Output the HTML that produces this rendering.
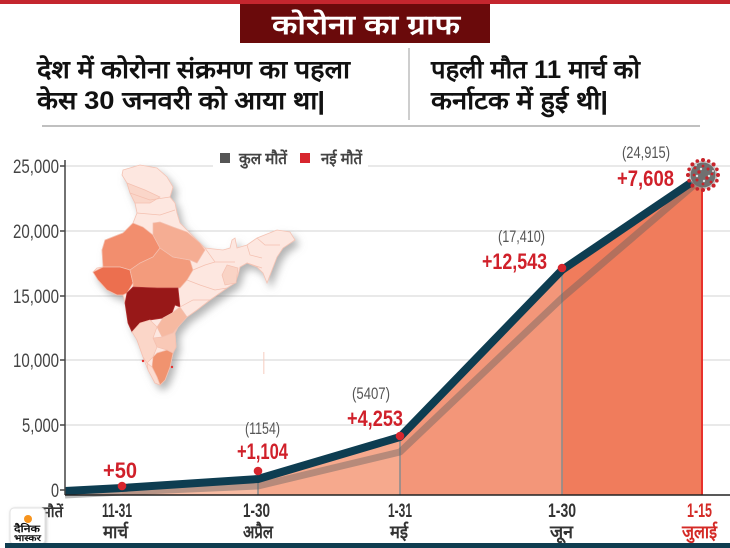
<!DOCTYPE html>
<html><head><meta charset="utf-8">
<style>
html,body{margin:0;padding:0;background:#fff;}
svg{display:block;}
.dv{font-family:"Liberation Sans","DejaVu Sans",sans-serif;}
.n{font-family:"Liberation Sans",sans-serif;}
</style></head>
<body>
<svg width="730" height="548" viewBox="0 0 730 548" xmlns="http://www.w3.org/2000/svg">
<defs>
<filter id="sh" x="-20%" y="-20%" width="150%" height="150%">
<feDropShadow dx="4" dy="5" stdDeviation="4" flood-color="#777" flood-opacity="0.55"/>
</filter>
<filter id="sh2" x="-30%" y="-30%" width="160%" height="160%">
<feDropShadow dx="1" dy="1" stdDeviation="1.5" flood-color="#999" flood-opacity="0.6"/>
</filter>
</defs>
<rect width="730" height="548" fill="#fff"/>
<!-- top bar -->
<rect x="0" y="0" width="730" height="4" fill="#c4262e"/>
<rect x="240" y="4" width="250" height="39" fill="#6a0a0b"/>
<text x="272" y="34" class="dv" font-size="27" font-weight="bold" fill="#fff" textLength="188" lengthAdjust="spacingAndGlyphs">कोरोना का ग्राफ</text>

<text x="37" y="78" class="dv" font-size="25" font-weight="bold" fill="#111" textLength="313" lengthAdjust="spacingAndGlyphs">देश में कोरोना संक्रमण का पहला</text>
<text x="37" y="109" class="dv" font-size="25" font-weight="bold" fill="#111" textLength="288" lengthAdjust="spacingAndGlyphs">केस 30 जनवरी को आया था|</text>
<line x1="409" y1="48" x2="409" y2="120" stroke="#bdbdbd" stroke-width="1.5"/>
<text x="431" y="78" class="dv" font-size="25" font-weight="bold" fill="#111" textLength="209" lengthAdjust="spacingAndGlyphs">पहली मौत 11 मार्च को</text>
<text x="431" y="109" class="dv" font-size="25" font-weight="bold" fill="#111" textLength="177" lengthAdjust="spacingAndGlyphs">कर्नाटक में हुई थी|</text>
<line x1="42" y1="126" x2="700" y2="126" stroke="#9a9a9a" stroke-width="1.2"/>

<!-- gridlines -->
<g stroke="#dcdcdc" stroke-width="1.2">
<line x1="65" y1="166" x2="730" y2="166"/>
<line x1="65" y1="231" x2="730" y2="231"/>
<line x1="65" y1="296" x2="730" y2="296"/>
<line x1="65" y1="360" x2="730" y2="360"/>
<line x1="65" y1="425" x2="730" y2="425"/>
</g>
<!-- y labels -->
<g class="n" font-size="19" fill="#444">
<text x="13" y="173" textLength="46" lengthAdjust="spacingAndGlyphs">25,000</text>
<text x="13" y="238" textLength="46" lengthAdjust="spacingAndGlyphs">20,000</text>
<text x="13" y="303" textLength="46" lengthAdjust="spacingAndGlyphs">15,000</text>
<text x="13" y="367" textLength="46" lengthAdjust="spacingAndGlyphs">10,000</text>
<text x="22" y="432" textLength="37" lengthAdjust="spacingAndGlyphs">5,000</text>
<text x="51" y="497" textLength="8" lengthAdjust="spacingAndGlyphs">0</text>
</g>
<g stroke="#444" stroke-width="1.5">
<line x1="60" y1="166" x2="65" y2="166"/>
<line x1="60" y1="231" x2="65" y2="231"/>
<line x1="60" y1="296" x2="65" y2="296"/>
<line x1="60" y1="360" x2="65" y2="360"/>
<line x1="60" y1="425" x2="65" y2="425"/>
<line x1="60" y1="490" x2="65" y2="490"/>
</g>

<!-- legend -->
<rect x="213" y="140" width="155" height="33" fill="#fff"/>
<rect x="220" y="153" width="10" height="10" fill="#555"/>
<text x="239" y="164" class="dv" font-size="16" font-weight="bold" fill="#444" textLength="48" lengthAdjust="spacingAndGlyphs">कुल मौतें</text>
<rect x="300" y="153" width="10" height="10" fill="#d7262e"/>
<text x="321" y="164" class="dv" font-size="16" font-weight="bold" fill="#444" textLength="41" lengthAdjust="spacingAndGlyphs">नई मौतें</text>

<!-- map -->
<g filter="url(#sh)">
<path d="M123,170 L140,165 L157,168 L167,177 L173,187 L170,197 L175,203 L177,213 L180,223 L190,233 L200,243 L205,248 L223,250 L230,248 L232,240 L235,238 L237,248 L247,245 L257,238 L277,230 L290,232 L295,240 L283,248 L277,257 L272,270 L267,283 L263,273 L257,267 L247,263 L240,267 L238,275 L235,283 L227,288 L210,300 L197,310 L187,317 L178,327 L175,333 L176,347 L173,353 L170,367 L165,380 L160,385 L155,383 L148,370 L143,357 L137,340 L133,333 L128,323 L125,303 L123,295 L117,295 L107,290 L98,280 L93,272 L97,268 L103,267 L102,250 L105,240 L123,233 L133,223 L137,213 L135,203 L130,193 L127,183 L122,175 Z" fill="#fde7e0" stroke="#f4c3b4" stroke-width="0.8"/>
</g>
<g stroke="#f4c0b0" stroke-width="0.7">
<path d="M127,183 L145,190 L160,197 L150,203 L135,203 L130,193 Z" fill="#fad6c9"/>
<path d="M227,265 L238,268 L236,283 L225,285 L222,275 Z" fill="#f9d3c5"/>
<path d="M102,250 L105,240 L123,233 L133,223 L143,227 L153,235 L160,248 L153,257 L140,263 L130,270 L120,267 L103,267 Z" fill="#f28e6e"/>
<path d="M93,272 L103,267 L120,267 L130,270 L133,283 L127,293 L123,295 L117,295 L107,290 L98,280 Z" fill="#ec6f4f"/>
<path d="M130,270 L140,263 L153,257 L160,248 L173,257 L190,260 L193,270 L187,280 L180,288 L157,288 L133,287 L133,283 Z" fill="#f39b7c"/>
<path d="M153,223 L160,222 L173,227 L187,232 L200,243 L205,250 L197,263 L190,260 L173,257 L160,248 L153,235 Z" fill="#f5ad93"/>
<path d="M133,287 L157,288 L178,288 L180,307 L175,305 L172,313 L163,318 L150,320 L140,323 L132,332 L128,323 L125,303 L127,293 Z" fill="#981818" stroke="#b03030"/>
<path d="M172,313 L180,307 L187,317 L178,327 L173,333 L162,337 L157,327 L163,318 Z" fill="#f6b9a1"/>
<path d="M178,327 L175,333 L176,347 L173,353 L167,350 L157,347 L153,338 L162,337 L173,333 Z" fill="#f9c9b7"/>
<path d="M132,332 L140,323 L150,320 L157,327 L153,338 L157,347 L153,357 L147,363 L143,357 L137,340 Z" fill="#fbd6c8"/>
<path d="M157,353 L167,350 L173,353 L170,367 L165,380 L160,385 L157,377 L152,367 L153,357 Z" fill="#f0936f"/>
<path d="M147,363 L152,367 L157,377 L160,385 L155,383 L148,370 Z" fill="#fcdcd0"/>
<path d="M130,193 L150,200 L170,197 M137,213 L160,215 L175,210 M205,248 L215,262 L235,262 M193,270 L205,265 L215,262 M187,280 L200,285 L215,290 L227,288 M180,307 L193,300 L210,300 M247,245 L250,255 L262,258 M257,238 L265,245 L280,245 M247,263 L262,268" fill="none"/>
</g>
<circle cx="143" cy="361" r="1.2" fill="#e53030"/>
<circle cx="172" cy="367" r="1.2" fill="#e53030"/>
<path d="M263,352 L264.5,352 L264.5,374 L263,374 Z" fill="#f6cfc2" opacity="0.7"/>

<!-- area fills -->
<polygon points="65,491 122,488 122,495 65,495" fill="#f9c6b1"/>
<polygon points="122,488 258,479 258,495 122,495" fill="#f8bba2"/>
<polygon points="258,479 400,437 400,495 258,495" fill="#f6a98d"/>
<polygon points="400,437 562,270 562,495 400,495" fill="#f39679"/>
<polygon points="562,270 702,175 702,495 562,495" fill="#f07c5c"/>
<!-- vertical lines -->
<g stroke="#8d8d8d" stroke-width="1.6">
<line x1="258" y1="471" x2="258" y2="495"/>
<line x1="400" y1="436" x2="400" y2="495"/>
<line x1="562" y1="268" x2="562" y2="495"/>
</g>
<line x1="702" y1="180" x2="702" y2="495" stroke="#e8312c" stroke-width="2"/>
<!-- gray shadow line -->
<polyline points="65,495 122,492 258,486 400,452 562,298 700,180" fill="none" stroke="rgba(95,95,95,0.42)" stroke-width="7" stroke-linejoin="round"/>
<!-- dark line -->
<polyline points="65,491 122,488 258,479 400,437 562,270 692,182" fill="none" stroke="#0e3d51" stroke-width="8" stroke-linejoin="round"/>
<!-- axes -->
<line x1="65" y1="160" x2="65" y2="495" stroke="#444" stroke-width="1.5"/>
<line x1="65" y1="495" x2="730" y2="495" stroke="#222" stroke-width="1.5"/>
<!-- dots -->
<g fill="#d7262e">
<circle cx="122" cy="486" r="4.3"/>
<circle cx="258" cy="471" r="4.3"/>
<circle cx="400" cy="436" r="4.3"/>
<circle cx="562" cy="268" r="4.3"/>
</g>
<!-- virus -->
<g transform="translate(703,175)">
<circle r="14.5" fill="#9a9a9a" opacity="0.55"/>
<circle r="12.5" fill="#707070"/>
<g fill="#c8242b">
<circle cx="0" cy="-15" r="2"/><circle cx="0" cy="15" r="2"/><circle cx="-15" cy="0" r="2"/><circle cx="15" cy="0" r="2"/>
<circle cx="-10.6" cy="-10.6" r="2"/><circle cx="10.6" cy="10.6" r="2"/><circle cx="-10.6" cy="10.6" r="2"/><circle cx="10.6" cy="-10.6" r="2"/>
<circle cx="5.7" cy="-13.9" r="1.8"/><circle cx="-5.7" cy="13.9" r="1.8"/><circle cx="13.9" cy="5.7" r="1.8"/><circle cx="-13.9" cy="-5.7" r="1.8"/>
<circle cx="-5.7" cy="-13.9" r="1.8"/><circle cx="5.7" cy="13.9" r="1.8"/><circle cx="13.9" cy="-5.7" r="1.8"/><circle cx="-13.9" cy="5.7" r="1.8"/>
<circle cx="-4" cy="-3" r="1.7"/><circle cx="4" cy="3" r="1.7"/><circle cx="5" cy="-6" r="1.5"/><circle cx="-6" cy="5" r="1.5"/>
<circle cx="-8" cy="-7" r="1.4"/><circle cx="8" cy="7" r="1.4"/><circle cx="0" cy="-9" r="1.4"/><circle cx="0" cy="9" r="1.4"/>
<circle cx="-9" cy="0" r="1.4"/><circle cx="9" cy="-1" r="1.4"/>
</g>
<g fill="#e0e0e0"><circle cx="-2" cy="-6" r="1.2"/><circle cx="6" cy="1" r="1.2"/><circle cx="-6" cy="1" r="1.2"/><circle cx="1" cy="6" r="1.2"/><circle cx="-7" cy="-10" r="1"/><circle cx="10" cy="-4" r="1"/></g>
</g>

<!-- data labels -->
<g class="n" font-weight="bold" fill="#d0202a" font-size="22">
<text x="103" y="478" textLength="34" lengthAdjust="spacingAndGlyphs">+50</text>
<text x="237" y="459" textLength="51" lengthAdjust="spacingAndGlyphs">+1,104</text>
<text x="347" y="426" textLength="56" lengthAdjust="spacingAndGlyphs">+4,253</text>
<text x="482" y="269" textLength="65" lengthAdjust="spacingAndGlyphs">+12,543</text>
<text x="617" y="186" textLength="57" lengthAdjust="spacingAndGlyphs">+7,608</text>
</g>
<g class="n" fill="#555" font-size="17">
<text x="245" y="434" textLength="35" lengthAdjust="spacingAndGlyphs">(1154)</text>
<text x="352" y="399" textLength="38" lengthAdjust="spacingAndGlyphs">(5407)</text>
<text x="498" y="242" textLength="47" lengthAdjust="spacingAndGlyphs">(17,410)</text>
<text x="622" y="158" textLength="48" lengthAdjust="spacingAndGlyphs">(24,915)</text>
</g>

<!-- x labels -->
<text x="42" y="517" class="dv" font-size="15" font-weight="bold" fill="#333" textLength="21" lengthAdjust="spacingAndGlyphs">मौतें</text>
<g class="n" font-weight="bold" fill="#333" font-size="19">
<text x="102" y="517" textLength="30" lengthAdjust="spacingAndGlyphs">11-31</text>
<text x="243" y="517" textLength="27" lengthAdjust="spacingAndGlyphs">1-30</text>
<text x="388" y="517" textLength="24" lengthAdjust="spacingAndGlyphs">1-31</text>
<text x="548" y="517" textLength="28" lengthAdjust="spacingAndGlyphs">1-30</text>
<text x="687" y="517" textLength="25" lengthAdjust="spacingAndGlyphs" fill="#d42a26">1-15</text>
</g>
<g class="dv" font-weight="bold" fill="#333" font-size="18">
<text x="103" y="538" textLength="25" lengthAdjust="spacingAndGlyphs">मार्च</text>
<text x="243" y="538" textLength="30" lengthAdjust="spacingAndGlyphs">अप्रैल</text>
<text x="390" y="538" textLength="18" lengthAdjust="spacingAndGlyphs">मई</text>
<text x="550" y="538" textLength="23" lengthAdjust="spacingAndGlyphs">जून</text>
<text x="682" y="538" textLength="35" lengthAdjust="spacingAndGlyphs" fill="#d42a26">जुलाई</text>
</g>

<!-- logo -->
<rect x="10" y="508" width="35" height="36" rx="4" fill="#fff" stroke="#e2e2e2" filter="url(#sh2)"/>
<circle cx="28" cy="519" r="4" fill="#f7941d"/>
<text x="14" y="532" class="dv" font-size="10" font-weight="bold" fill="#111" textLength="26" lengthAdjust="spacingAndGlyphs">दैनिक</text>
<text x="14" y="541" class="dv" font-size="9" font-weight="bold" fill="#111" textLength="27" lengthAdjust="spacingAndGlyphs">भास्कर</text>
<!-- bottom bar -->
<rect x="5" y="543" width="725" height="5" fill="#0f3d50"/>
</svg>
</body></html>
